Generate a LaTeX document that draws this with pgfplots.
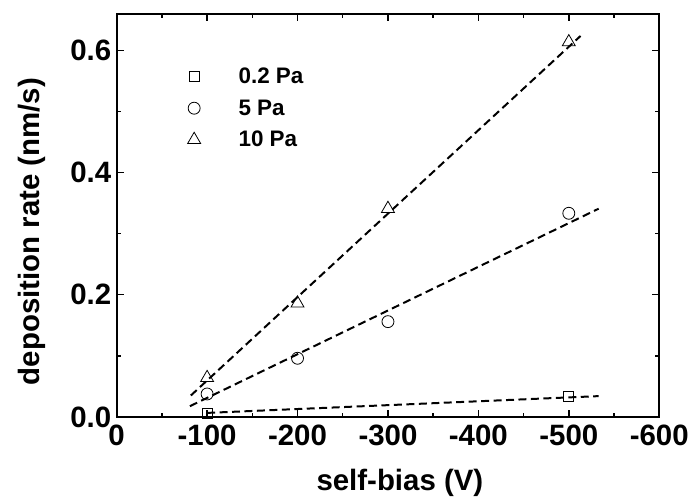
\documentclass[border=0pt]{standalone}
\usepackage{pgfplots}
\pgfplotsset{compat=1.18}
\usepackage{fontspec}
\setmainfont{Liberation Sans}
\begin{document}
\begin{tikzpicture}
\begin{axis}[
  name=main,
  scale only axis,
  width=544pt, height=404pt,
  x dir=reverse,
  xmin=-600, xmax=0,
  ymin=0, ymax=0.66,
  xtick={0,-100,-200,-300,-400,-500,-600},
  xticklabels={0,-100,-200,-300,-400,-500,-600},
  ytick={0,0.2,0.4,0.6},
  yticklabels={0.0,0.2,0.4,0.6},
  minor x tick num=1,
  minor y tick num=1,
  tick align=inside,
  major tick length=7pt,
  minor tick length=4pt,
  every tick/.style={black, line width=1.4pt},
  axis line style={line width=1.8pt},
  ticklabel style={font=\fontsize{29.5}{30}\selectfont\bfseries},
  xticklabel style={yshift=-4.5pt},
  yticklabel style={xshift=-2pt},
  xlabel={self-bias (V)},
  ylabel={deposition rate (nm/s)},
  label style={font=\fontsize{29.5}{30}\selectfont\bfseries},
  xlabel style={at={(axis description cs:0.522,-0.163)}, anchor=center},
  ylabel style={at={(axis description cs:-0.156,0.46)}, anchor=center},
  legend style={draw=none, fill=none, at={(axis description cs:0.125,0.876)}, anchor=north west,
    font=\fontsize{22.5}{24}\selectfont\bfseries, row sep=10.5pt,
    /tikz/every odd column/.append style={column sep=36pt},
    cells={anchor=west}},
  legend cell align=left,
  clip=false,
]
\addplot[only marks, mark=square, mark size=5pt, line width=0.8pt] coordinates {(-100,0.006) (-500,0.033)};
\addlegendentry{0.2 Pa}
\addplot[only marks, mark=o, mark size=6pt, line width=0.8pt] coordinates {(-100,0.0375) (-200,0.096) (-300,0.156) (-500,0.3335)};
\addlegendentry{5 Pa}
\addplot[only marks, mark=triangle, mark size=7.5pt, line width=0.8pt] coordinates {(-100,0.064) (-200,0.186) (-300,0.341) (-500,0.614)};
\addlegendentry{10 Pa}
\addplot[no marks, line width=2pt, dash pattern=on 8pt off 4.5pt, forget plot] coordinates {(-100,0.0065) (-533,0.034)};
\addplot[no marks, line width=2pt, dash pattern=on 8pt off 4.5pt, forget plot] coordinates {(-81,0.0175) (-533,0.341)};
\addplot[no marks, line width=2pt, dash pattern=on 8pt off 4.5pt, forget plot] coordinates {(-82,0.035) (-513,0.624)};
\end{axis}
\path ([xshift=-117pt,yshift=-85pt]main.south west) rectangle ([xshift=31pt,yshift=14pt]main.north east);
\end{tikzpicture}
\end{document}
